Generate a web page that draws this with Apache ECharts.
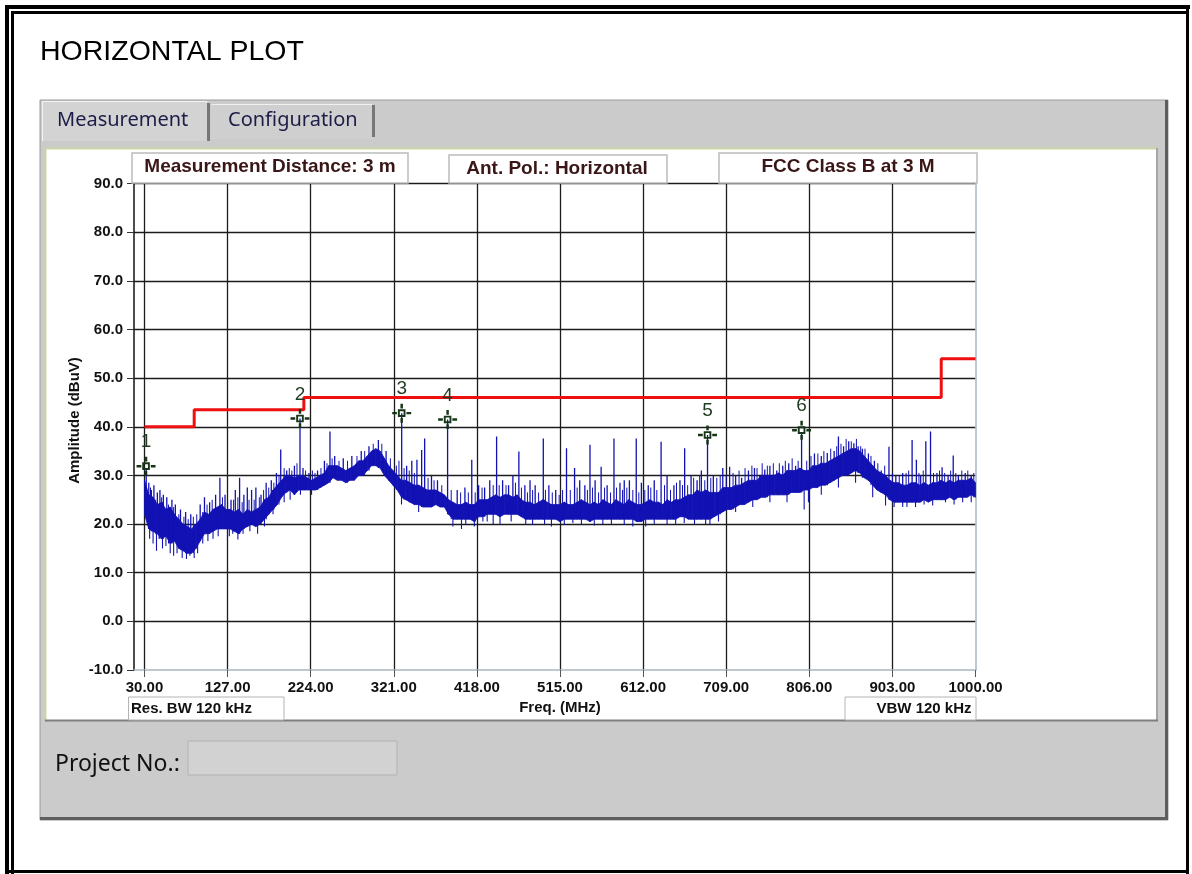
<!DOCTYPE html>
<html>
<head>
<meta charset="utf-8">
<script src="https://cdn.jsdelivr.net/npm/echarts@6/dist/echarts.min.js"></script>
<style>
  html, body { margin: 0; padding: 0; background: #ffffff; }
  #chart { width: 1192px; height: 874px; }
</style>
</head>
<body>
<div id="chart"></div>
<script>
// ---------- DATA ----------
const xTickValues = [30, 127, 224, 321, 418, 515, 612, 709, 806, 903, 1000];

// measured noise band (5 MHz steps from 30 MHz), lower / upper envelope in dBuV
const bandLo = [
  22, 19, 18.5, 18, 17, 17.5, 16, 16.5, 15, 14.5,
  14, 14, 15, 16.5, 18, 18, 18.5, 19, 19, 19,
  19, 18.5, 18, 19, 19.5, 20, 19.5, 20, 21, 22,
  23, 24, 25.5, 26.5, 27, 26, 27, 27, 27, 27,
  27, 27.5, 28, 28.5, 29.5, 29, 29, 28.5, 29, 29,
  30, 30, 31, 32, 32, 31.5, 30, 29, 28, 27,
  25.5, 25, 24.5, 24, 24, 23.5, 23.5, 23.5, 24, 23.5,
  23.5, 22, 21, 21, 21, 21, 21, 20.5, 21.5, 21.5,
  22, 22, 22, 21.5, 22, 22, 22, 22, 21.5, 21,
  21, 21, 21, 21, 21, 21, 21, 20.5, 21, 21,
  21, 21, 21, 21, 20.5, 21, 21, 21, 21, 21,
  21, 21, 21, 21, 21, 20.5, 20.5, 21, 21, 21,
  21, 21, 21, 21, 21, 21.5, 21.5, 21, 21, 21,
  21, 21, 21, 21.5, 22, 22.5, 23, 23, 23.5, 24,
  24, 24.5, 25, 25, 25.5, 25.5, 26, 26, 26, 26,
  26, 26.5, 26.5, 26.5, 27, 27, 27.5, 27.5, 28, 28,
  28.5, 29, 29.5, 30, 30, 30.5, 31, 30.5, 29.5, 29,
  28, 27, 26.5, 26, 25, 24.5, 24.5, 24.5, 24.5, 24.5,
  24.5, 24.5, 25, 24.5, 25, 25, 25, 25, 25.5, 25,
  25.5, 25.5, 25.5, 26, 25.5
];
const bandHi = [
  29, 26, 25.5, 24, 24.5, 23, 23.5, 22, 21, 20,
  19.5, 19, 20, 21, 22.5, 22, 23, 23.5, 24, 23,
  23, 22.5, 23, 22, 23, 22.5, 23, 23.5, 25, 25.5,
  27, 28, 29, 30, 30, 29.5, 30, 30, 29.5, 29,
  29.5, 30, 30.5, 32, 32, 32, 31.5, 31, 31.5, 32,
  33, 33, 34, 35, 35.5, 35, 33.5, 32, 31, 30,
  29, 29, 28.5, 28, 28, 27.5, 27, 27, 27, 26.5,
  26, 25, 24.5, 24, 24, 24.5, 24, 24, 25, 25,
  25, 25.5, 26, 25.5, 26, 26, 25.5, 26, 25, 24.5,
  24.5, 24, 24.5, 25, 24.5, 24, 24, 24, 24.5, 24,
  24, 24.5, 25, 24.5, 24, 24.5, 24, 25, 24.5, 24,
  25, 24.5, 24, 25, 24.5, 24, 24, 24.5, 25, 24.5,
  24.5, 24, 25, 24.5, 25, 25, 25.5, 26, 26, 27,
  26.5, 27, 26.5, 26.5, 26.5, 27.5, 27.5, 27.5, 28, 28,
  28.5, 29, 29, 29, 30, 30, 30, 30, 30.5, 30,
  31, 31, 31, 31.5, 31, 31, 32, 32, 32.5, 32.5,
  33, 33.5, 34, 34.5, 35, 35.5, 35.5, 35, 34, 33,
  32, 31, 30.5, 30, 29, 28.5, 28.5, 28, 28, 28.5,
  28.5, 28, 28.5, 28, 28.5, 28.5, 29, 28.5, 29, 28.5,
  29, 29, 29, 29.5, 28.5
];

// narrow emissions rising above the band
const spikeUpFreq = [32, 35, 38, 41, 45, 48, 52, 56, 62, 66, 72, 78, 84, 95, 100, 106, 113, 118, 124, 131,
  136, 141, 146, 150, 155, 160, 166, 172, 178, 184, 189, 196, 205, 211.5, 215, 222, 232, 240, 246.5, 252,
  262, 272, 283, 292, 303, 312, 330.2, 336, 342, 348, 353.5, 357, 365, 372, 383.8, 395, 404, 412, 420, 427,
  433, 441, 448, 455, 460, 467, 474, 480, 486, 495.5, 502, 510, 522.6, 532, 538, 544, 550, 556, 563, 570,
  578, 585, 590, 596, 604, 610, 618, 625, 633, 640, 648, 655, 660.5, 668, 675, 680, 687.2, 694, 705, 713,
  720, 727, 735, 742, 748, 754, 760, 768, 775, 782, 790, 797, 812, 820, 827, 835, 840, 846, 852, 858,
  863, 868, 875, 882, 890, 899, 907, 915, 926, 931, 936, 942, 947.5, 955, 961, 968, 974, 980, 988, 995];
const spikeUpTop = [31.5, 28.5, 27, 28, 26.5, 27, 26, 25.5, 25, 24, 23, 22.5, 22, 24, 25.5, 24.5, 26, 29.5, 26, 25,
  27, 29.5, 26, 27.5, 27, 27.5, 26, 28.5, 29, 30.5, 35.3, 31, 32, 41.7, 31.5, 30.5, 31, 33, 39, 34,
  33.5, 34, 35, 36, 37.3, 35, 42.8, 32, 33, 33.2, 35.2, 37.6, 30, 29, 41.5, 27, 27.5, 33.2, 28, 27.5,
  29, 38, 29, 28, 30, 34.9, 28, 29, 28, 37.6, 28, 27, 35.6, 31.5, 29, 28, 36.3, 29, 31.8, 28,
  37.6, 28.5, 29, 29, 37.6, 28.5, 28, 29, 36.9, 30, 28, 29, 35.6, 30, 29, 31, 38.3, 30, 31.5, 31.8,
  30, 29.5, 31, 31.5, 30, 31.2, 32, 31, 32, 32.5, 32, 38.5, 34.5, 34, 34.6, 35, 38, 36, 37, 36.6,
  36, 35.5, 34.5, 33, 31, 35.9, 30, 30.5, 37.3, 33.2, 30, 37, 39, 30.5, 31.7, 30, 34.1, 30, 30.5, 30];

// short hairs on top of the band
const hairUpFreq = [37, 43, 50, 58, 64, 70, 76, 81, 87, 91, 103, 109, 121, 127, 134, 139, 144, 152, 158, 164,
  169, 175, 181, 187, 193, 199, 202, 208, 218, 226, 229, 236, 243, 249, 257, 267, 278, 287, 297, 307,
  317, 324, 327, 333, 339, 345, 361, 368, 377, 388, 399, 408, 416, 424, 437, 444, 452, 463, 470, 477,
  483, 490, 498, 506, 514, 518, 527, 535, 547, 553, 560, 567, 574, 581, 588, 593, 600, 607, 614, 621,
  628, 637, 644, 651, 658, 664, 671, 678, 684, 691, 698, 702, 709, 717, 724, 731, 739, 745, 751, 757,
  764, 771, 778, 786, 793, 803, 808, 816, 823, 831, 838, 843, 849, 855, 861, 866, 871, 878, 886, 894,
  903, 911, 919, 922, 934, 939, 951, 958, 964, 971, 977, 984, 991, 998];
const hairUpTop = [27.5, 25, 25.5, 24, 23.5, 22, 21.5, 21, 21.5, 22, 24, 25, 25.5, 24.5, 25, 25.5, 24.5, 25, 25, 25.5,
  27, 27.5, 28.5, 30, 31.5, 31.5, 31, 32.5, 31, 31, 30.5, 31.5, 32.5, 33.5, 33, 33, 34, 35, 36.5, 36.5,
  33.5, 32, 33, 31.5, 31, 30.5, 29.5, 29, 28, 27, 26.5, 26.5, 26.5, 27.5, 28, 28, 28, 28.5, 27.5, 26.5,
  27, 26.5, 27, 26.5, 26, 27, 27, 27.5, 27, 27.5, 26.5, 27.5, 26.5, 27.5, 27, 27.5, 27, 26.5, 27, 27.5,
  27, 28, 27, 28.5, 28, 28, 29.5, 30, 29, 29.5, 29.5, 30, 30, 30.5, 31, 31.5, 32, 31.5, 32.5, 32,
  32.5, 32.5, 33, 33.5, 33, 33, 34, 34.5, 35, 35.5, 36, 36.5, 37.5, 37, 37.5, 36, 35.5, 34, 32.5, 32,
  30.5, 30, 30.5, 31, 30.5, 31, 30.5, 31, 30.5, 31, 30.5, 31, 31, 30.5];

// dips below the band
const spikeDnFreq = [33, 36, 40, 44, 47, 51, 55, 60, 64, 68, 74, 79, 83, 88, 92, 98, 104, 110, 116, 129,
  133, 139, 145, 153, 162, 170, 180, 193, 200, 212, 225, 330, 350, 390, 400, 415, 430, 445, 475, 505,
  540, 575, 600, 615, 650, 685, 700, 800, 805, 905, 920, 940, 965, 985,
  405, 425, 437, 458, 483, 497, 520, 530, 555, 565, 590, 625, 640, 660, 672, 690, 720, 740, 760, 780,
  820, 840, 860, 880, 895, 915, 930, 950, 975, 995];
const spikeDnBot = [22, 17, 16, 14.5, 17, 15, 15.5, 14, 13.5, 14, 13, 12.8, 13.5, 13, 14, 16, 16.5, 17, 17.5, 17.5,
  18, 16.8, 18, 18.5, 18, 19.5, 22, 24.5, 25, 26, 26, 24, 22.5, 19.5, 19, 19.5, 20.5, 20, 20, 19.5,
  19.8, 20, 19.5, 19.5, 20, 20, 20.5, 23, 24.5, 23.5, 23.5, 24, 24.5, 24.5,
  19.8, 20.5, 20, 20.5, 19.8, 20, 19.8, 20.2, 19.7, 20, 19.8, 20, 19.8, 20.2, 20, 20, 22.5, 23.5, 24.5, 24.5,
  26, 27.5, 28.5, 25.5, 23.8, 23.5, 23.5, 23.8, 24, 24.5];

// FCC Class B limit at 3 m
const limitFreq  = [30, 88, 88, 216, 216, 960, 960, 1000];
const limitLevel = [40, 40, 43.5, 43.5, 46, 46, 54, 54];

// peak markers
const markerFreq  = [31.8, 211.5, 330.2, 383.8, 687.2, 797];
const markerAmp   = [31.9, 41.7, 42.8, 41.5, 38.3, 39.3];
const markerLabel = ['1', '2', '3', '4', '5', '6'];

// ---------- BUILD ----------
const ARIAL = '"Liberation Sans", Arial, sans-serif';
const TAHOMA = '"Noto Sans", "DejaVu Sans", sans-serif';
const TRACE = '#1212b4';

const bandFreq = bandLo.map((_, i) => 30 + 5 * i);
const bandQuadData = [];
for (let i = 0; i < bandFreq.length - 1; i++) {
  bandQuadData.push([bandFreq[i], bandLo[i], bandHi[i], bandFreq[i + 1], bandLo[i + 1], bandHi[i + 1]]);
}
function bandIndex(f) {
  return Math.min(bandLo.length - 1, Math.max(0, Math.round((f - 30) / 5)));
}
const spikeData = [];
spikeUpFreq.forEach((f, i) => spikeData.push([f, bandLo[bandIndex(f)], spikeUpTop[i], 1.3]));
hairUpFreq.forEach((f, i) => spikeData.push([f, bandLo[bandIndex(f)], hairUpTop[i], 1]));
spikeDnFreq.forEach((f, i) => spikeData.push([f, bandHi[bandIndex(f)], spikeDnBot[i], 1.1]));
const limitData = limitFreq.map((f, i) => [f, limitLevel[i]]);
const markerData = markerFreq.map((f, i) => [f, markerAmp[i], markerLabel[i]]);

const markerPath = 'path://M0 8.7h5v2.6H0z M15 8.7h5v2.6h-5z M8.7 0h2.6v5H8.7z M8.7 15h2.6v5H8.7z M6 6h8v8H6z M8 8v4h4V8z';

const bg = -100;
const graphics = [
  // outer page frame
  { type: 'rect', z: bg, shape: { x: 5, y: 5, width: 1185, height: 4 }, style: { fill: '#000' } },
  { type: 'rect', z: bg, shape: { x: 11, y: 11, width: 1175, height: 3 }, style: { fill: '#000' } },
  { type: 'rect', z: bg, shape: { x: 5, y: 5, width: 4, height: 869 }, style: { fill: '#000' } },
  { type: 'rect', z: bg, shape: { x: 11, y: 11, width: 3, height: 863 }, style: { fill: '#000' } },
  { type: 'rect', z: bg, shape: { x: 1186, y: 5, width: 3, height: 869 }, style: { fill: '#000' } },
  { type: 'rect', z: bg, shape: { x: 5, y: 870, width: 1184, height: 3 }, style: { fill: '#000' } },
  // title
  { type: 'text', z: bg, style: { text: 'HORIZONTAL PLOT', x: 40, y: 52, font: '28.5px ' + ARIAL, fill: '#000', textVerticalAlign: 'middle' } },
  // gray panel
  { type: 'rect', z: bg, shape: { x: 40, y: 100, width: 1128, height: 720 }, style: { fill: '#cbcbcb', stroke: '#9a9a9a', lineWidth: 1 } },
  { type: 'rect', z: bg, shape: { x: 1165, y: 100, width: 3, height: 720 }, style: { fill: '#5e5e5e' } },
  { type: 'rect', z: bg, shape: { x: 40, y: 817, width: 1128, height: 3 }, style: { fill: '#5e5e5e' } },
  // tabs
  { type: 'rect', z: bg, shape: { x: 42, y: 101, width: 166, height: 40 }, style: { fill: '#d3d3d3' } },
  { type: 'line', z: bg, shape: { x1: 42.5, y1: 141, x2: 42.5, y2: 101.5 }, style: { stroke: '#f4f4f4', lineWidth: 1 } },
  { type: 'line', z: bg, shape: { x1: 42.5, y1: 101.5, x2: 207, y2: 101.5 }, style: { stroke: '#f4f4f4', lineWidth: 1 } },
  { type: 'rect', z: bg, shape: { x: 207, y: 103, width: 3, height: 38 }, style: { fill: '#777777' } },
  { type: 'rect', z: bg, shape: { x: 211, y: 104, width: 162, height: 35 }, style: { fill: '#cfcfcf' } },
  { type: 'line', z: bg, shape: { x1: 211.5, y1: 104.5, x2: 372, y2: 104.5 }, style: { stroke: '#f0f0f0', lineWidth: 1 } },
  { type: 'rect', z: bg, shape: { x: 372, y: 105, width: 3, height: 32 }, style: { fill: '#777777' } },
  { type: 'text', z: bg, style: { text: 'Measurement', x: 57, y: 120, font: '20px ' + TAHOMA, fill: '#1c1c48', textVerticalAlign: 'middle' } },
  { type: 'text', z: bg, style: { text: 'Configuration', x: 228, y: 120, font: '20px ' + TAHOMA, fill: '#1c1c48', textVerticalAlign: 'middle' } },
  // white measurement panel
  { type: 'rect', z: bg, shape: { x: 45, y: 148, width: 1112, height: 572 }, style: { fill: '#ffffff' } },
  { type: 'line', z: bg, shape: { x1: 45, y1: 148.5, x2: 1157, y2: 148.5 }, style: { stroke: '#c9d7a2', lineWidth: 2 } },
  { type: 'line', z: bg, shape: { x1: 45.5, y1: 148, x2: 45.5, y2: 720 }, style: { stroke: '#c9d7a2', lineWidth: 2 } },
  { type: 'line', z: bg, shape: { x1: 1157, y1: 148, x2: 1157, y2: 721 }, style: { stroke: '#a6a6a6', lineWidth: 2 } },
  { type: 'line', z: bg, shape: { x1: 45, y1: 720.5, x2: 1158, y2: 720.5 }, style: { stroke: '#7e7e7e', lineWidth: 2 } },
  // info boxes on top
  { type: 'rect', z: 100, shape: { x: 132, y: 153, width: 276, height: 30 }, style: { fill: '#ffffff', stroke: '#bcbcbc', lineWidth: 1.5 } },
  { type: 'text', z: 101, style: { text: 'Measurement Distance: 3 m', x: 270, y: 167, font: 'bold 19px ' + ARIAL, fill: '#3a1616', textAlign: 'center', textVerticalAlign: 'middle' } },
  { type: 'rect', z: 100, shape: { x: 449, y: 155, width: 218, height: 28 }, style: { fill: '#ffffff', stroke: '#bcbcbc', lineWidth: 1.5 } },
  { type: 'text', z: 101, style: { text: 'Ant. Pol.: Horizontal', x: 557, y: 169, font: 'bold 19px ' + ARIAL, fill: '#3a1616', textAlign: 'center', textVerticalAlign: 'middle' } },
  { type: 'rect', z: 100, shape: { x: 719, y: 153, width: 258, height: 30 }, style: { fill: '#ffffff', stroke: '#bcbcbc', lineWidth: 1.5 } },
  { type: 'text', z: 101, style: { text: 'FCC Class B at 3 M', x: 848, y: 167, font: 'bold 19px ' + ARIAL, fill: '#3a1616', textAlign: 'center', textVerticalAlign: 'middle' } },
  // bottom boxes
  { type: 'rect', z: 100, shape: { x: 128.5, y: 697, width: 155.5, height: 23 }, style: { fill: '#ffffff', stroke: '#b4b4b4', lineWidth: 1 } },
  { type: 'text', z: 101, style: { text: 'Res. BW 120 kHz', x: 131, y: 709, font: 'bold 15px ' + ARIAL, fill: '#111', textVerticalAlign: 'middle' } },
  { type: 'rect', z: 100, shape: { x: 845, y: 697, width: 131, height: 23 }, style: { fill: '#ffffff', stroke: '#b4b4b4', lineWidth: 1 } },
  { type: 'text', z: 101, style: { text: 'VBW 120 kHz', x: 971.5, y: 709, font: 'bold 15px ' + ARIAL, fill: '#111', textAlign: 'right', textVerticalAlign: 'middle' } },
  { type: 'text', z: 101, style: { text: 'Freq. (MHz)', x: 560, y: 708, font: 'bold 15px ' + ARIAL, fill: '#111', textAlign: 'center', textVerticalAlign: 'middle' } },
  { type: 'text', z: 101, x: 74.7, y: 420.5, rotation: Math.PI / 2, style: { text: 'Amplitude (dBuV)', x: 0, y: 0, font: 'bold 15px ' + ARIAL, fill: '#111', textAlign: 'center', textVerticalAlign: 'middle' } },
  // project number
  { type: 'text', z: bg, style: { text: 'Project No.:', x: 55, y: 764, font: '23px ' + TAHOMA, fill: '#111', textVerticalAlign: 'middle' } },
  { type: 'rect', z: bg, shape: { x: 188, y: 741, width: 209, height: 34 }, style: { fill: '#d2d2d2', stroke: '#b2b2b2', lineWidth: 1 } }
];

const chart = echarts.init(document.getElementById('chart'), null, { renderer: 'canvas' });
const option = {
  animation: false,
  backgroundColor: '#ffffff',
  graphic: { elements: graphics },
  grid: { left: 134, top: 183.5, width: 841.5, height: 486.5, outerBoundsMode: 'none', containLabel: false },
  xAxis: {
    type: 'value', min: 17.74, max: 1000,
    axisLine: { show: true, onZero: false, lineStyle: { color: '#a9b6c2', width: 1.5 } },
    axisTick: { show: true, customValues: xTickValues, length: 7, lineStyle: { color: '#555', width: 1 } },
    axisLabel: { customValues: xTickValues, formatter: v => Number(v).toFixed(2), margin: 10,
      fontFamily: ARIAL, fontWeight: 'bold', fontSize: 15, color: '#111' },
    splitLine: { show: true, showMaxLine: false, lineStyle: { color: '#1c1c1c', width: 1.3 } }
  },
  yAxis: [{
    type: 'value', min: -10, max: 90, interval: 10,
    axisLine: { show: true, onZero: false, lineStyle: { color: '#111', width: 1.5 } },
    axisTick: { show: true, length: 7, lineStyle: { color: '#333', width: 1 } },
    axisLabel: { formatter: v => Number(v).toFixed(1), margin: 11,
      fontFamily: ARIAL, fontWeight: 'bold', fontSize: 15, color: '#111' },
    splitLine: { show: true, showMinLine: false, lineStyle: { color: '#1c1c1c', width: 1.3 } }
  }, {
    type: 'value', position: 'right', min: -10, max: 90, interval: 10,
    axisLine: { show: true, onZero: false, lineStyle: { color: '#a9b6c2', width: 1.5 } },
    axisTick: { show: false }, axisLabel: { show: false }, splitLine: { show: false }
  }],
  series: [
    { type: 'custom', name: 'band', data: bandQuadData, z: 3, clip: true, silent: true,
      encode: { x: [0, 3], y: [1, 2, 4, 5] },
      renderItem: (params, api) => {
        const a = api.coord([api.value(0), api.value(1)]);
        const b = api.coord([api.value(3), api.value(4)]);
        const c = api.coord([api.value(3), api.value(5)]);
        const d = api.coord([api.value(0), api.value(2)]);
        return { type: 'polygon', shape: { points: [a, b, c, d] },
          style: { fill: TRACE, stroke: TRACE, lineWidth: 0.8 } };
      } },
    { type: 'custom', name: 'spikes', data: spikeData, z: 3, clip: true, silent: true,
      encode: { x: 0, y: [1, 2] },
      renderItem: (params, api) => {
        const p1 = api.coord([api.value(0), api.value(1)]);
        const p2 = api.coord([api.value(0), api.value(2)]);
        return { type: 'line', shape: { x1: p1[0], y1: p1[1], x2: p2[0], y2: p2[1] },
          style: { stroke: TRACE, lineWidth: api.value(3) } };
      } },
    { type: 'line', name: 'limit', data: limitData, symbol: 'none', z: 5,
      lineStyle: { color: '#ee1010', width: 3 } },
    { type: 'scatter', name: 'markers', data: markerData, symbol: markerPath, symbolSize: 19, z: 10,
      itemStyle: { color: '#173517', opacity: 1 },
      label: { show: true, position: 'top', distance: 5, formatter: p => p.data[2],
        color: '#1f3b1f', fontSize: 19, fontFamily: ARIAL } }
  ]
};
chart.setOption(option);
</script>
</body>
</html>
